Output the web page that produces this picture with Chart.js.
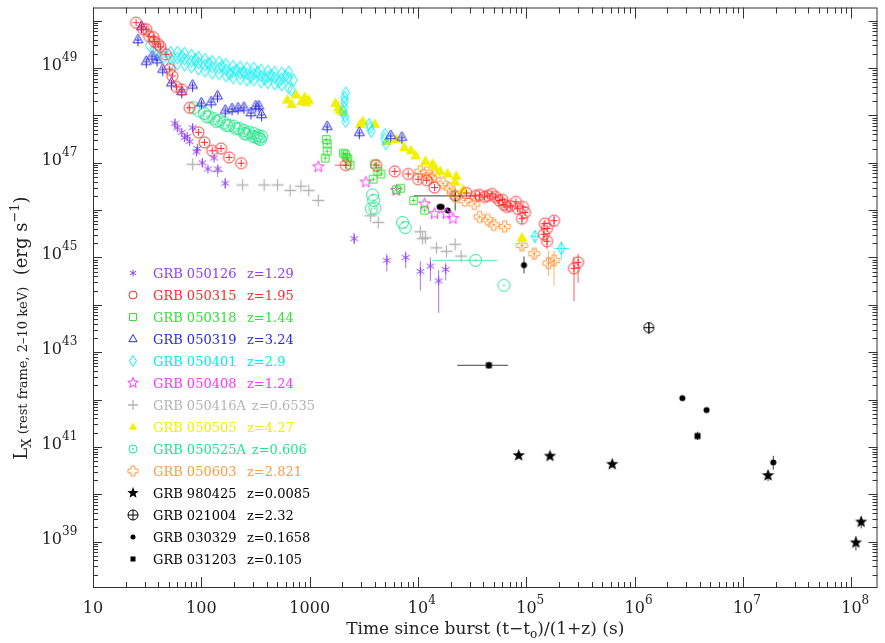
<!DOCTYPE html>
<html>
<head>
<meta charset="utf-8">
<script src="https://cdn.jsdelivr.net/npm/chart.js@4.4.1/dist/chart.umd.min.js"></script>
<style>
  html, body { margin: 0; padding: 0; background: #fff; }
</style>
</head>
<body>
<canvas id="lc" width="885" height="643"></canvas>
<script>
// ---- data: [time since burst (s), L_X (erg/s)] ----
const grb050126 = [[57,6.8e47],[60,5.5e47],[66,4.4e47],[70,3.4e47],[74,3.6e47],[78,2.8e47],[83,5.5e47],[90,1.7e47],[92,2.0e47],[102,1.0e47],[115,7.4e46],[131,1.26e47],[142,7.4e46],[166,3.7e46],[2570,2.5e45],[5150,8.7e44],[7700,1e45],[1.05e4,5.1e44],[1.3e4,6.6e44],[1.55e4,3.2e44],[1.8e4,5.6e44]];
const grb050315 = [[25,9.1e49],[29,6.6e49],[31,6.6e49],[33,4.7e49],[36,4.5e49],[37,3.6e49],[40,3.2e49],[42,2.8e49],[47,1.95e49],[51,9.5e48],[54,6.8e48],[59,4e48],[66,3.5e48],[78,1.45e48],[94,4.4e47],[107,2.7e47],[126,1.8e47],[152,2e47],[180,1.3e47],[233,9.8e46],[2150,8.9e46],[4100,8.9e46],[6100,6.6e46],[8100,5.8e46],[1e4,4.5e46],[1.2e4,4.3e46],[1.42e4,3e46],[2.8e4,2.3e46],[3.4e4,2e46],[3.7e4,2.1e46],[4.1e4,1.9e46],[4.4e4,2e46],[4.8e4,2.2e46],[5.2e4,1.9e46],[5.6e4,1.6e46],[6e4,1.66e46],[6.2e4,1.3e46],[6.6e4,1.17e46],[7.1e4,1.23e46],[8e4,1.5e46],[8.3e4,1.07e46],[9.3e4,1.17e46],[9.7e4,8.9e45],[9.1e4,6.6e45],[1.48e5,5.2e45],[1.55e5,4.1e45],[1.8e5,6e45],[1.45e5,3.1e45],[1.55e5,2.2e45],[2.75e5,5.9e44],[3e5,7.9e44]];
const grb050318 = [[1420,3.1e47],[1450,2.5e47],[1450,1.75e47],[1390,1.25e47],[2050,1.6e47],[2130,1.5e47],[2200,1.3e47],[2250,1.2e47],[2360,8.9e46],[4000,9.4e46],[4250,6.6e46],[4550,5.8e46],[3850,4.5e46],[6900,2.9e46],[6300,2.7e46],[9100,1.6e46],[1.15e4,1e46]];
const grb050319 = [[28,7.6e49],[26,4e49],[31,1.4e49],[35,1.8e49],[39,1.5e49],[44,9.5e48],[53,4.9e48],[66,3.2e48],[83,4.4e48],[100,1.85e48],[123,1.95e48],[141,2.6e48],[166,1.3e48],[192,1.4e48],[218,1.45e48],[247,1.5e48],[287,1.15e48],[318,1.6e48],[340,1.6e48],[360,1.05e48],[1450,5.9e47],[2870,4.4e47],[5600,3.8e47],[7100,3.5e47]];
const grb050401 = [
  [33,3.0e49],[38.6,2.5e49],[44.8,2.27e49],[52,2.16e49],[60,2.16e49],[70,2.06e49],[81,1.87e49],[94,1.7e49],[108,1.54e49],[126,1.4e49],[146,1.34e49],[169,1.21e49],[196,1.1e49],[228,1.05e49],[264,1e49],[305,1e49],[355,9.1e48],[411,8.65e48],[476,8.25e48],[552,7.86e48],[640,8.25e48],[710,5.6e48],
  [38.6,1.87e49],[44.8,1.7e49],[52,1.62e49],[60,1.62e49],[70,1.54e49],[81,1.4e49],[94,1.27e49],[108,1.16e49],[126,1.05e49],[146,1e49],[169,9.1e48],[196,8.25e48],[228,7.86e48],[264,7.5e48],[305,7.5e48],[355,6.8e48],[411,6.5e48],[476,6.2e48],[552,5.9e48],[640,6.2e48],
  [52,1.21e49],[60,1.21e49],[70,1.16e49],[81,1.05e49],[94,9.5e48],[108,8.65e48],[126,7.86e48],[146,7.5e48],[169,6.8e48],[196,6.2e48],[228,5.9e48],[264,5.6e48],[305,5.6e48],[355,5.1e48],[411,4.86e48],[476,4.6e48],[552,4.4e48],[640,3.8e48],[680,3.47e48],
  [66,1.8e49],[88,1.5e49],[117,1.25e49],[155,1.1e49],[210,9.1e48],[245,8.25e48],[330,8.25e48],[440,7.1e48],[600,6.8e48],[520,5.1e48],[385,5.9e48],[285,6.5e48],[182,7.5e48],
  [2150,3e48],[2100,2.4e48],[2100,1.95e48],[2080,1.5e48],[2040,1.2e48],[2120,9.5e47],[2150,7.4e47],[3550,6.5e47],[3600,5.5e47],[3700,4.6e47],[4950,4e47],[4900,3.2e47],[5050,2.5e47],[1.2e5,2.8e45],[2.1e5,1.55e45]];
const grb050408 = [[1200,8.2e46],[3300,3.9e46],[6300,2.6e46],[1.15e4,1.35e46],[1.42e4,8.4e45],[1.83e4,8.4e45],[2.1e4,6.6e45]];
const grb050416A = [[83,9.3e46],[141,6.6e46],[240,3.4e46],[380,3.4e46],[505,3.4e46],[660,2.6e46],[830,3.2e46],[980,2.6e46],[1200,1.6e46],[3650,7.6e45],[4290,5.5e45],[1.05e4,3.5e45],[1.1e4,2.5e45],[1.17e4,2.6e45],[1.48e4,1.6e45],[1.83e4,1.35e45],[2.2e4,1.9e45],[2.5e4,1.07e45]];
const grb050505 = [[620,2.1e48],[680,1.7e48],[750,2.7e48],[840,1.95e48],[900,2.4e48],[930,1.85e48],[980,2.1e48],[1730,1.8e48],[1840,1.45e48],[1900,1.25e48],[2040,1.15e48],[2930,6.5e47],[3100,7.4e47],[4000,6.5e47],[5150,2.8e47],[6300,3.1e47],[7450,2.1e47],[8600,1.8e47],[9500,1.4e47],[1.17e4,1.07e47],[1.36e4,9.3e46],[1.42e4,8.1e46],[1.6e4,6.6e46],[1.88e4,5.8e46],[2.25e4,5.2e46],[2.2e4,3.9e46],[2.6e4,2.7e46],[9.1e4,2.6e45]];
const grb050525A = [[85,1.45e48],[95,1.25e48],[107,1.1e48],[118,9.4e47],[131,8.5e47],[146,7.8e47],[162,7e47],[180,6.1e47],[200,5.9e47],[223,5.3e47],[247,4.8e47],[250,4.2e47],[275,4.4e47],[300,3.6e47],[305,4.2e47],[335,3.8e47],[340,3.3e47],[360,3.6e47],
  [112,9.4e47],[138,7.4e47],[170,6.2e47],[210,5.2e47],[260,4.0e47],[320,3.4e47],[350,3.1e47],
  [3800,2.1e46],[3900,1.6e46],[4000,1.1e46],[3700,1.07e46],[7200,5.5e45],[7600,4.3e45],[3.4e4,8.7e44],[6.2e4,2.6e44]];
const grb050603 = [[1.05e4,6.6e46],[1.2e4,6.3e46],[1.32e4,4.8e46],[1.42e4,5.3e46],[1.7e4,3.7e46],[1.95e4,2.9e46],[2.1e4,2.2e46],[2.25e4,1.9e46],[2.7e4,1.6e46],[3.3e4,1.35e46],[3.7e4,7.2e45],[4.4e4,6.3e45],[5e4,4.9e45],[6.3e4,4.5e45],[9.1e4,1.8e45],[1.18e5,1.2e45],[1.6e5,7.6e44],[1.8e5,8.7e44]];
const grb980425 = [[8.5e4,6.6e40],[1.65e5,6.4e40],[6.2e5,4.3e40],[1.7e7,2.5e40],[1.23e8,2.6e39],[1.1e8,9.5e38]];
const grb021004 = [[2.2e4,2e46],[1.35e6,3.3e43]];
const grb030329 = [[1.58e4,1.17e46],[1.65e4,1.17e46],[1.88e4,9.8e45],[9.5e4,6.9e44],[2.75e6,1.07e42],[4.6e6,6e41],[1.9e7,4.7e40]];
const grb031203 = [[4.5e4,5.3e42],[3.8e6,1.7e41]];

// error bars: yErr = [t, L_low, L_high], xErr = [L, t_low, t_high]
const yErr050126 = [[57,5.3e47,8.5e47],[83,4.4e47,6.8e47],[102,8e46,1.25e47],[166,2.8e46,4.8e46],[2570,1.9e45,3.3e45],[5150,5.1e44,1.2e45],[7700,5.9e44,1.35e45],[1.05e4,2e44,8.3e44],[1.3e4,3.2e44,1e45],[1.55e4,6.8e43,5.4e44],[1.8e4,3.3e44,7.6e44]];
const yErr050315 = [[9.1e4,5e45,8e45],[1.45e5,2.2e45,5.8e45],[1.55e5,1.5e45,3.3e45],[1.8e5,4.5e45,7.5e45],[2.75e5,1.2e44,1.05e45],[3e5,2.9e44,1.2e45]];
const xErr050315 = [[8.9e46,1700,2300]];
const yErr050401 = [[1.2e5,2e45,3.8e45],[2.1e5,9e44,2.2e45]];
const xErr050401 = [[2.8e45,1.1e5,1.3e5],[1.55e45,1.8e5,2.5e5]];
const xErr050525A = [[8.7e44,1.35e4,5.4e4]];
const yErr050603 = [[9.1e4,1.4e45,2.3e45],[1.18e5,9e44,1.6e45],[1.6e5,4.1e44,1.4e45],[1.8e5,2.5e44,1.4e45]];
const yErr980425 = [[1.7e7,1.9e40,3.2e40],[1.1e8,6.5e38,1.3e39],[1.23e8,1.9e39,3.4e39]];
const yErr021004 = [[2.2e4,9.8e45,2.8e46],[1.35e6,2.4e43,4.3e43]];
const xErr021004 = [[2e46,9.1e3,3.5e4]];
const yErr030329 = [[9.5e4,4.6e44,1.05e45],[1.9e7,3.3e40,6.5e40]];
const yErr031203 = [[4.5e4,4.5e42,6.3e42],[3.8e6,1.4e41,2.1e41]];
const xErr031203 = [[5.3e42,2.3e4,6.8e4]];

const grbNames = ['GRB 050126','GRB 050315','GRB 050318','GRB 050319','GRB 050401','GRB 050408','GRB 050416A','GRB 050505','GRB 050525A','GRB 050603','GRB 980425','GRB 021004','GRB 030329','GRB 031203'];
const grbZ = ['z=1.29','z=1.95','z=1.44','z=3.24','z=2.9','z=1.24','z=0.6535','z=4.27','z=0.606','z=2.821','z=0.0085','z=2.32','z=0.1658','z=0.105'];
const grbData = [grb050126, grb050315, grb050318, grb050319, grb050401, grb050408, grb050416A, grb050505, grb050525A, grb050603, grb980425, grb021004, grb030329, grb031203];
const grbYErr = [yErr050126, yErr050315, [], [], yErr050401, [], [], [], [], yErr050603, yErr980425, yErr021004, yErr030329, yErr031203];
const grbXErr = [[], xErr050315, [], [], xErr050401, [], [], [], xErr050525A, [], [], xErr021004, [], xErr031203];

const xTickValues = [1e1,1e2,1e3,1e4,1e5,1e6,1e7,1e8];
const xTickLabels = ['10','100','1000','10^4','10^5','10^6','10^7','10^8'];
const yTickValues = [1e39,1e41,1e43,1e45,1e47,1e49];
const yTickLabels = ['10^39','10^41','10^43','10^45','10^47','10^49'];

// ---- styles ----
const colors = ['#9040f0','#ff2a2a','#33e033','#2a2ae0','#00eef0','#ff33ff','#b4b4b4','#f0f000','#22e58a','#ff9a40','#000','#000','#000','#000'];
// [kind, plot radius, plot inner cross, legend radius, legend inner cross]
const symbols = [
  ['asterisk',4.5,0,3.5,0],['circle',5.5,3.5,4,0],['square',3.8,2,3.5,0],['triangle',5.5,3,4.5,0],['diamond',6,0,5.5,0],
  ['star',6,0,5.5,0],['plus',6,0,5,0],['triFill',6,0,4.5,0],['odot',6,0,4,0],['gcross',5.5,2,5,0],
  ['starFill',6.5,0,6,0],['circle',5,5,5,5],['dot',3,0,2.5,0],['squareFill',3,0,2.5,0]
];
const FONT = '"DejaVu Serif", "Liberation Serif", serif';

function drawSym(ctx, kind, color, x, y, r, inner) {
  ctx.save();
  ctx.strokeStyle = color; ctx.fillStyle = color; ctx.lineWidth = 1;
  const P = Math.PI;
  ctx.beginPath();
  if (kind === 'asterisk') {
    for (let k = 0; k < 3; k++) {
      const a = P / 2 + k * P / 3;
      ctx.moveTo(x - r * Math.cos(a), y - r * Math.sin(a));
      ctx.lineTo(x + r * Math.cos(a), y + r * Math.sin(a));
    }
    ctx.stroke();
  } else if (kind === 'circle') {
    ctx.arc(x, y, r, 0, 2 * P); ctx.stroke();
  } else if (kind === 'odot') {
    ctx.arc(x, y, r, 0, 2 * P); ctx.stroke();
    ctx.beginPath(); ctx.arc(x, y, 0.9, 0, 2 * P); ctx.fill();
  } else if (kind === 'square') {
    ctx.rect(x - r, y - r, 2 * r, 2 * r); ctx.stroke();
  } else if (kind === 'squareFill') {
    ctx.fillRect(x - r, y - r, 2 * r, 2 * r);
  } else if (kind === 'dot') {
    ctx.arc(x, y, r, 0, 2 * P); ctx.fill();
  } else if (kind === 'triangle' || kind === 'triFill') {
    ctx.moveTo(x, y - r); ctx.lineTo(x + 0.9 * r, y + 0.6 * r); ctx.lineTo(x - 0.9 * r, y + 0.6 * r); ctx.closePath();
    if (kind === 'triFill') ctx.fill(); else ctx.stroke();
    if (kind === 'triangle' && inner) {
      ctx.beginPath();
      ctx.moveTo(x, y - 0.5 * r); ctx.lineTo(x, y + 1.25 * r);
      ctx.moveTo(x - 0.45 * r, y + 0.1 * r); ctx.lineTo(x + 0.45 * r, y + 0.1 * r);
      ctx.stroke();
      inner = 0;
    }
  } else if (kind === 'diamond') {
    ctx.moveTo(x, y - r); ctx.lineTo(x + 0.62 * r, y); ctx.lineTo(x, y + r); ctx.lineTo(x - 0.62 * r, y); ctx.closePath(); ctx.stroke();
  } else if (kind === 'star' || kind === 'starFill') {
    for (let k = 0; k < 10; k++) {
      const a = -P / 2 + k * P / 5, rr = k % 2 ? r * 0.42 : r;
      const px = x + rr * Math.cos(a), py = y + rr * Math.sin(a);
      k ? ctx.lineTo(px, py) : ctx.moveTo(px, py);
    }
    ctx.closePath();
    if (kind === 'starFill') ctx.fill(); else ctx.stroke();
  } else if (kind === 'plus') {
    ctx.lineWidth = 1.3;
    ctx.moveTo(x - r, y); ctx.lineTo(x + r, y); ctx.moveTo(x, y - r); ctx.lineTo(x, y + r); ctx.stroke();
  } else if (kind === 'gcross') {
    const w = r * 0.38;
    const pts = [[-w,-r],[w,-r],[w,-w],[r,-w],[r,w],[w,w],[w,r],[-w,r],[-w,w],[-r,w],[-r,-w],[-w,-w]];
    pts.forEach((p, i) => i ? ctx.lineTo(x + p[0], y + p[1]) : ctx.moveTo(x + p[0], y + p[1]));
    ctx.closePath(); ctx.stroke();
  }
  if (inner) {
    ctx.beginPath();
    ctx.moveTo(x, y - inner); ctx.lineTo(x, y + inner);
    ctx.moveTo(x - inner, y); ctx.lineTo(x + inner, y);
    ctx.stroke();
  }
  ctx.restore();
}

function symImage(kind, color, r, inner) {
  const s = 2 * Math.ceil(r * 1.4) + 3;
  const c = document.createElement('canvas');
  c.width = c.height = s;
  drawSym(c.getContext('2d'), kind, color, s / 2, s / 2, r, inner);
  return c;
}

function richText(ctx, segs, x, y, align) {
  let w = 0;
  segs.forEach(s => { ctx.font = s[1] + 'px ' + FONT; w += ctx.measureText(s[0]).width; });
  let cx = align === 'center' ? x - w / 2 : align === 'right' ? x - w : x;
  ctx.textAlign = 'left';
  segs.forEach(s => {
    ctx.font = s[1] + 'px ' + FONT;
    ctx.fillText(s[0], cx, y + (s[2] || 0));
    cx += ctx.measureText(s[0]).width;
  });
  return cx;
}

const errorBars = {
  id: 'errorBars',
  beforeDatasetsDraw(chart) {
    const { ctx, scales: { x, y } } = chart;
    ctx.save();
    ctx.lineWidth = 1;
    chart.data.datasets.forEach(ds => {
      ctx.strokeStyle = ds.borderColor;
      ctx.globalAlpha = 0.75;
      ds.yErr.forEach(([t, lo, hi]) => {
        const px = x.getPixelForValue(t);
        ctx.beginPath(); ctx.moveTo(px, y.getPixelForValue(lo)); ctx.lineTo(px, y.getPixelForValue(hi)); ctx.stroke();
      });
      ds.xErr.forEach(([l, lo, hi]) => {
        const py = y.getPixelForValue(l);
        ctx.beginPath(); ctx.moveTo(x.getPixelForValue(lo), py); ctx.lineTo(x.getPixelForValue(hi), py); ctx.stroke();
      });
    });
    ctx.restore();
  }
};

const frame = {
  id: 'frame',
  afterDraw(chart) {
    const { ctx, chartArea: a, scales: { x, y } } = chart;
    ctx.save();
    ctx.strokeStyle = '#333';
    ctx.lineWidth = 1;
    ctx.strokeRect(a.left + 0.5, a.top + 0.5, a.right - a.left - 1, a.bottom - a.top - 1);
    ctx.beginPath();
    for (let d = 1; d <= 8; d++) {
      for (let m = 1; m <= 9; m++) {
        const v = m * Math.pow(10, d);
        if (v > x.max) break;
        const px = Math.round(x.getPixelForValue(v)) + 0.5;
        const len = m === 1 ? 11 : 6;
        ctx.moveTo(px, a.bottom); ctx.lineTo(px, a.bottom - len);
        ctx.moveTo(px, a.top); ctx.lineTo(px, a.top + len);
      }
    }
    for (let d = 38; d <= 50; d++) {
      for (let m = 1; m <= 9; m++) {
        const v = m * Math.pow(10, d);
        if (v < y.min || v > y.max) continue;
        const py = Math.round(y.getPixelForValue(v)) + 0.5;
        const len = m === 1 ? 9 : 5;
        ctx.moveTo(a.left, py); ctx.lineTo(a.left + len, py);
        ctx.moveTo(a.right, py); ctx.lineTo(a.right - len, py);
      }
    }
    ctx.stroke();

    ctx.fillStyle = '#222';
    ctx.textBaseline = 'alphabetic';
    xTickValues.forEach((v, i) => {
      const px = x.getPixelForValue(v);
      const [base, exp] = xTickLabels[i].split('^');
      ctx.font = '16px ' + FONT;
      const bw = ctx.measureText(base).width;
      richText(ctx, [[base, 16, 0]], px, 613, 'center');
      if (exp) richText(ctx, [[exp, 12, -9]], px + bw / 2, 613, 'left');
    });
    yTickValues.forEach((v, i) => {
      const py = y.getPixelForValue(v);
      const [base, exp] = yTickLabels[i].split('^');
      richText(ctx, [[base, 16, 0]], 62, py + 2, 'right');
      richText(ctx, [[exp, 12, -9]], 62, py + 2, 'left');
    });

    // axis titles
    richText(ctx, [['Time since burst (t\u2212t', 17, 0], ['o', 12, 4], [')/(1+z) (s)', 17, 0]], (a.left + a.right) / 2, 634, 'center');
    ctx.save();
    ctx.translate(27, 328);
    ctx.rotate(-Math.PI / 2);
    richText(ctx, [['L', 18, 0], ['X', 13, 4], [' (rest frame, 2\u201310 keV)', 13, 0], ['  (erg s', 18, 0], ['\u22121', 13, -8], [')', 18, 0]], 0, 0, 'center');
    ctx.restore();

    // legend inside the plot
    grbNames.forEach((name, i) => {
      const yy = 273 + 22 * i;
      const s = symbols[i];
      drawSym(ctx, s[0], colors[i], 133, yy, s[3], s[4]);
      ctx.fillStyle = colors[i];
      const end = richText(ctx, [[name, 13, 0]], 153, yy + 5, 'left');
      richText(ctx, [[grbZ[i], 13, 0]], Math.max(247, end + 6), yy + 5, 'left');
    });
    ctx.restore();
  }
};

const datasets = grbData.map((arr, i) => ({
  label: grbNames[i] + ' ' + grbZ[i],
  data: arr.map(([t, l]) => ({ x: t, y: l })),
  pointStyle: symImage(symbols[i][0], colors[i], symbols[i][1], symbols[i][2]),
  pointRadius: symbols[i][1],
  borderColor: colors[i],
  backgroundColor: colors[i],
  showLine: false,
  yErr: grbYErr[i],
  xErr: grbXErr[i]
}));

new Chart(document.getElementById('lc').getContext('2d'), {
  type: 'scatter',
  data: { datasets },
  options: {
    responsive: false,
    animation: false,
    layout: { padding: { left: 93, right: 2, top: 2, bottom: 55 } },
    scales: {
      x: { type: 'logarithmic', min: 10, max: 1.74e8, display: false },
      y: { type: 'logarithmic', min: 1.05e38, max: 1.9e50, display: false }
    },
    plugins: { legend: { display: false }, tooltip: { enabled: false } }
  },
  plugins: [errorBars, frame]
});
</script>
</body>
</html>
